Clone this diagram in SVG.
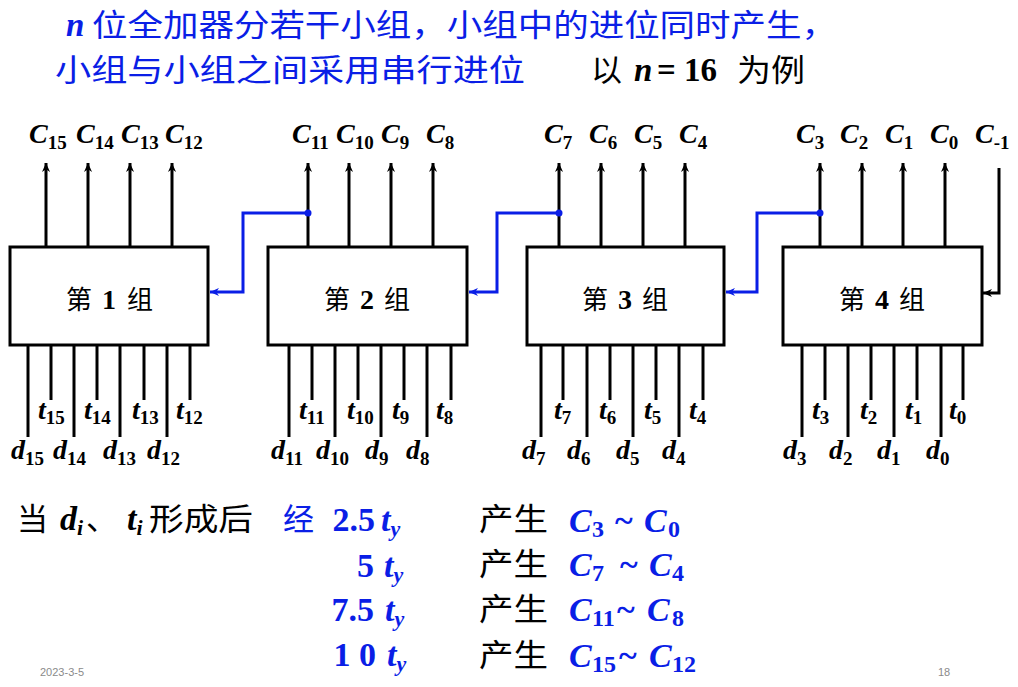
<svg xmlns="http://www.w3.org/2000/svg" width="1018" height="687" viewBox="0 0 1018 687">
<style>
.ln{stroke:#000;stroke-width:3;fill:none}
.bl{stroke:#0a1ee6;stroke-width:3;fill:none}
.box{fill:#fff;stroke:#000;stroke-width:3}
.v{font-family:"Liberation Serif",serif;font-weight:bold;font-style:italic;font-size:28px;fill:#000}
.s{font-family:"Liberation Serif",serif;font-weight:bold;font-style:normal;font-size:19px}
.si{font-family:"Liberation Serif",serif;font-weight:bold;font-style:italic;font-size:22px}
.cjk{font-family:"Noto Sans CJK SC","Noto Sans",sans-serif}
.tm{font-family:"Liberation Serif",serif;font-weight:bold}
.blue{fill:#0a1ee6}
.big{font-size:34px}
.foot{font-family:"Liberation Sans",sans-serif;font-size:11px;fill:#8a8a8a}
</style>
<defs>
<marker id="ak" viewBox="0 0 10 10" refX="10" refY="5" markerWidth="10" markerHeight="9" markerUnits="userSpaceOnUse" orient="auto"><path d="M0,0.5 L10,5 L0,9.5 L3,5 z" fill="#000"/></marker>
<marker id="ab" viewBox="0 0 10 10" refX="10" refY="5" markerWidth="11" markerHeight="9" markerUnits="userSpaceOnUse" orient="auto"><path d="M0,0.5 L10,5 L0,9.5 L3,5 z" fill="#0a1ee6"/></marker>
</defs>
<rect width="1018" height="687" fill="#fff"/>

<!-- title -->
<g id="title">
<text x="66" y="36" class="tm blue" font-style="italic" font-size="33">n</text>
<text x="92" y="36" class="cjk blue" font-size="31" textLength="745" lengthAdjust="spacingAndGlyphs">位全加器分若干小组，小组中的进位同时产生，</text>
<text x="55" y="81" class="cjk blue" font-size="31" textLength="470" lengthAdjust="spacingAndGlyphs">小组与小组之间采用串行进位</text>
<text x="591" y="81" class="cjk" font-size="31">以</text>
<text x="634" y="81" class="tm" font-style="italic" font-size="33">n</text>
<text x="657" y="81" class="tm" font-size="33">=</text>
<text x="684" y="81" class="tm" font-size="33">16</text>
<text x="737" y="81" class="cjk" font-size="31" textLength="68" lengthAdjust="spacingAndGlyphs">为例</text>
</g>

<!-- connectors -->
<g id="connectors">
<g class="ln" marker-end="url(#ak)">
<path d="M46,247 V163"/><path d="M88,247 V163"/><path d="M130,247 V163"/><path d="M172,247 V163"/>
<path d="M308,247 V163"/><path d="M349,247 V163"/><path d="M391,247 V163"/><path d="M433,247 V163"/>
<path d="M559,247 V163"/><path d="M601,247 V163"/><path d="M643,247 V163"/><path d="M685,247 V163"/>
<path d="M820,247 V163"/><path d="M862,247 V163"/><path d="M903,247 V163"/><path d="M945,247 V163"/>
<path d="M999,168 V293 H983"/>
</g>
<g class="ln">
<path d="M28,345 V437"/><path d="M74,345 V437"/><path d="M120,345 V437"/><path d="M167,345 V437"/>
<path d="M51,345 V400"/><path d="M97,345 V400"/><path d="M144,345 V400"/><path d="M190,345 V400"/>
<path d="M289,345 V437"/><path d="M335,345 V437"/><path d="M381,345 V437"/><path d="M427,345 V437"/>
<path d="M312,345 V400"/><path d="M358,345 V400"/><path d="M404,345 V400"/><path d="M451,345 V400"/>
<path d="M541,345 V437"/><path d="M587,345 V437"/><path d="M633,345 V437"/><path d="M679,345 V437"/>
<path d="M563,345 V400"/><path d="M610,345 V400"/><path d="M656,345 V400"/><path d="M703,345 V400"/>
<path d="M802,345 V437"/><path d="M848,345 V437"/><path d="M894,345 V437"/><path d="M941,345 V437"/>
<path d="M825,345 V400"/><path d="M871,345 V400"/><path d="M917,345 V400"/><path d="M963,345 V400"/>
</g>
<g class="bl" marker-end="url(#ab)">
<path d="M308,213 H243 V292 H210"/>
<path d="M559,213 H497 V292 H469"/>
<path d="M820,213 H757 V292 H726"/>
</g>
<g fill="#0a1ee6">
<circle cx="308" cy="213" r="3.5"/><circle cx="559" cy="213" r="3.5"/><circle cx="820" cy="213" r="3.5"/>
</g>
</g>

<!-- nodes -->
<g id="group1">
<rect class="box" x="10" y="247" width="198" height="98"/>
<text x="66" y="309" class="cjk" font-size="26">第</text>
<text x="109" y="309" class="tm" font-size="28" text-anchor="middle">1</text>
<text x="153" y="309" class="cjk" font-size="26" text-anchor="end">组</text>
</g>
<g id="group2">
<rect class="box" x="268" y="247" width="199" height="98"/>
<text x="324" y="309" class="cjk" font-size="26">第</text>
<text x="367" y="309" class="tm" font-size="28" text-anchor="middle">2</text>
<text x="410" y="309" class="cjk" font-size="26" text-anchor="end">组</text>
</g>
<g id="group3">
<rect class="box" x="527" y="247" width="197" height="98"/>
<text x="582" y="309" class="cjk" font-size="26">第</text>
<text x="625" y="309" class="tm" font-size="28" text-anchor="middle">3</text>
<text x="668" y="309" class="cjk" font-size="26" text-anchor="end">组</text>
</g>
<g id="group4">
<rect class="box" x="783" y="247" width="199" height="98"/>
<text x="839" y="309" class="cjk" font-size="26">第</text>
<text x="882" y="309" class="tm" font-size="28" text-anchor="middle">4</text>
<text x="925" y="309" class="cjk" font-size="26" text-anchor="end">组</text>
</g>

<!-- carry labels -->
<g id="carry-labels">
<text class="v" x="29" y="143">C<tspan class="s" dy="6">15</tspan></text>
<text class="v" x="76" y="143">C<tspan class="s" dy="6">14</tspan></text>
<text class="v" x="121" y="143">C<tspan class="s" dy="6">13</tspan></text>
<text class="v" x="165" y="143">C<tspan class="s" dy="6">12</tspan></text>
<text class="v" x="292" y="143">C<tspan class="s" dy="6">11</tspan></text>
<text class="v" x="336" y="143">C<tspan class="s" dy="6">10</tspan></text>
<text class="v" x="381" y="143">C<tspan class="s" dy="6">9</tspan></text>
<text class="v" x="426" y="143">C<tspan class="s" dy="6">8</tspan></text>
<text class="v" x="544" y="143">C<tspan class="s" dy="6">7</tspan></text>
<text class="v" x="589" y="143">C<tspan class="s" dy="6">6</tspan></text>
<text class="v" x="634" y="143">C<tspan class="s" dy="6">5</tspan></text>
<text class="v" x="679" y="143">C<tspan class="s" dy="6">4</tspan></text>
<text class="v" x="796" y="143">C<tspan class="s" dy="6">3</tspan></text>
<text class="v" x="840" y="143">C<tspan class="s" dy="6">2</tspan></text>
<text class="v" x="885" y="143">C<tspan class="s" dy="6">1</tspan></text>
<text class="v" x="930" y="143">C<tspan class="s" dy="6">0</tspan></text>
<text class="v" x="975" y="143">C<tspan class="s" dy="6">-1</tspan></text>
</g>

<!-- input labels -->
<g id="input-labels">
<text class="v" x="38" y="419">t<tspan class="s" dy="5">15</tspan></text>
<text class="v" x="84" y="419">t<tspan class="s" dy="5">14</tspan></text>
<text class="v" x="132" y="419">t<tspan class="s" dy="5">13</tspan></text>
<text class="v" x="176" y="419">t<tspan class="s" dy="5">12</tspan></text>
<text class="v" x="299" y="419">t<tspan class="s" dy="5">11</tspan></text>
<text class="v" x="347" y="419">t<tspan class="s" dy="5">10</tspan></text>
<text class="v" x="392" y="419">t<tspan class="s" dy="5">9</tspan></text>
<text class="v" x="436" y="419">t<tspan class="s" dy="5">8</tspan></text>
<text class="v" x="554" y="419">t<tspan class="s" dy="5">7</tspan></text>
<text class="v" x="599" y="419">t<tspan class="s" dy="5">6</tspan></text>
<text class="v" x="644" y="419">t<tspan class="s" dy="5">5</tspan></text>
<text class="v" x="689" y="419">t<tspan class="s" dy="5">4</tspan></text>
<text class="v" x="812" y="419">t<tspan class="s" dy="5">3</tspan></text>
<text class="v" x="860" y="419">t<tspan class="s" dy="5">2</tspan></text>
<text class="v" x="905" y="419">t<tspan class="s" dy="5">1</tspan></text>
<text class="v" x="949" y="419">t<tspan class="s" dy="5">0</tspan></text>
<text class="v" x="11" y="459">d<tspan class="s" dy="6">15</tspan></text>
<text class="v" x="53" y="459">d<tspan class="s" dy="6">14</tspan></text>
<text class="v" x="103" y="459">d<tspan class="s" dy="6">13</tspan></text>
<text class="v" x="147" y="459">d<tspan class="s" dy="6">12</tspan></text>
<text class="v" x="271" y="459">d<tspan class="s" dy="6">11</tspan></text>
<text class="v" x="316" y="459">d<tspan class="s" dy="6">10</tspan></text>
<text class="v" x="365" y="459">d<tspan class="s" dy="6">9</tspan></text>
<text class="v" x="406" y="459">d<tspan class="s" dy="6">8</tspan></text>
<text class="v" x="522" y="459">d<tspan class="s" dy="6">7</tspan></text>
<text class="v" x="567" y="459">d<tspan class="s" dy="6">6</tspan></text>
<text class="v" x="616" y="459">d<tspan class="s" dy="6">5</tspan></text>
<text class="v" x="662" y="459">d<tspan class="s" dy="6">4</tspan></text>
<text class="v" x="783" y="459">d<tspan class="s" dy="6">3</tspan></text>
<text class="v" x="829" y="459">d<tspan class="s" dy="6">2</tspan></text>
<text class="v" x="877" y="459">d<tspan class="s" dy="6">1</tspan></text>
<text class="v" x="926" y="459">d<tspan class="s" dy="6">0</tspan></text>
</g>

<!-- timing text -->
<g id="timing">
<text x="17" y="530" class="cjk" font-size="31">当</text>
<text x="60" y="530" class="tm big" font-style="italic">d<tspan class="si" dy="5">i</tspan></text>
<text x="86" y="530" class="cjk" font-size="31">、</text>
<text x="127" y="530" class="tm big" font-style="italic">t<tspan class="si" dy="5">i</tspan></text>
<text x="149" y="530" class="cjk" font-size="31" textLength="104" lengthAdjust="spacingAndGlyphs">形成后</text>

<text x="283" y="530" class="cjk blue" font-size="31">经</text>
<text x="375" y="531" class="tm big blue" text-anchor="end">2.5</text>
<text x="381" y="531" class="tm big blue" font-style="italic">t<tspan class="si" dy="5">y</tspan></text>
<text x="374" y="577" class="tm big blue" text-anchor="end">5</text>
<text x="384" y="577" class="tm big blue" font-style="italic">t<tspan class="si" dy="5">y</tspan></text>
<text x="374" y="621" class="tm big blue" text-anchor="end">7.5</text>
<text x="385" y="621" class="tm big blue" font-style="italic">t<tspan class="si" dy="5">y</tspan></text>
<text x="376" y="666" class="tm big blue" text-anchor="end">1 0</text>
<text x="387" y="666" class="tm big blue" font-style="italic">t<tspan class="si" dy="5">y</tspan></text>

<text x="479" y="530" class="cjk" font-size="31" textLength="69" lengthAdjust="spacingAndGlyphs">产生</text>
<text x="479" y="575" class="cjk" font-size="31" textLength="69" lengthAdjust="spacingAndGlyphs">产生</text>
<text x="479" y="620" class="cjk" font-size="31" textLength="69" lengthAdjust="spacingAndGlyphs">产生</text>
<text x="479" y="666" class="cjk" font-size="31" textLength="69" lengthAdjust="spacingAndGlyphs">产生</text>

<text y="532" class="tm big blue"><tspan x="569" font-style="italic">C</tspan><tspan x="592" dy="5" font-size="24">3</tspan><tspan x="615" dy="-5">~</tspan><tspan x="644" font-style="italic">C</tspan><tspan x="668" dy="5" font-size="24">0</tspan></text>
<text y="576" class="tm big blue"><tspan x="569" font-style="italic">C</tspan><tspan x="592" dy="5" font-size="24">7</tspan><tspan x="620" dy="-5">~</tspan><tspan x="649" font-style="italic">C</tspan><tspan x="672" dy="5" font-size="24">4</tspan></text>
<text y="621" class="tm big blue"><tspan x="569" font-style="italic">C</tspan><tspan x="592" dy="5" font-size="24">11</tspan><tspan x="617" dy="-5">~</tspan><tspan x="647" font-style="italic">C</tspan><tspan x="672" dy="5" font-size="24">8</tspan></text>
<text y="667" class="tm big blue"><tspan x="569" font-style="italic">C</tspan><tspan x="592" dy="5" font-size="24">15</tspan><tspan x="619" dy="-5">~</tspan><tspan x="649" font-style="italic">C</tspan><tspan x="672" dy="5" font-size="24">12</tspan></text>
</g>

<g id="footer">
<text x="40" y="676" class="foot">2023-3-5</text>
<text x="938" y="676" class="foot">18</text>
</g>
</svg>
